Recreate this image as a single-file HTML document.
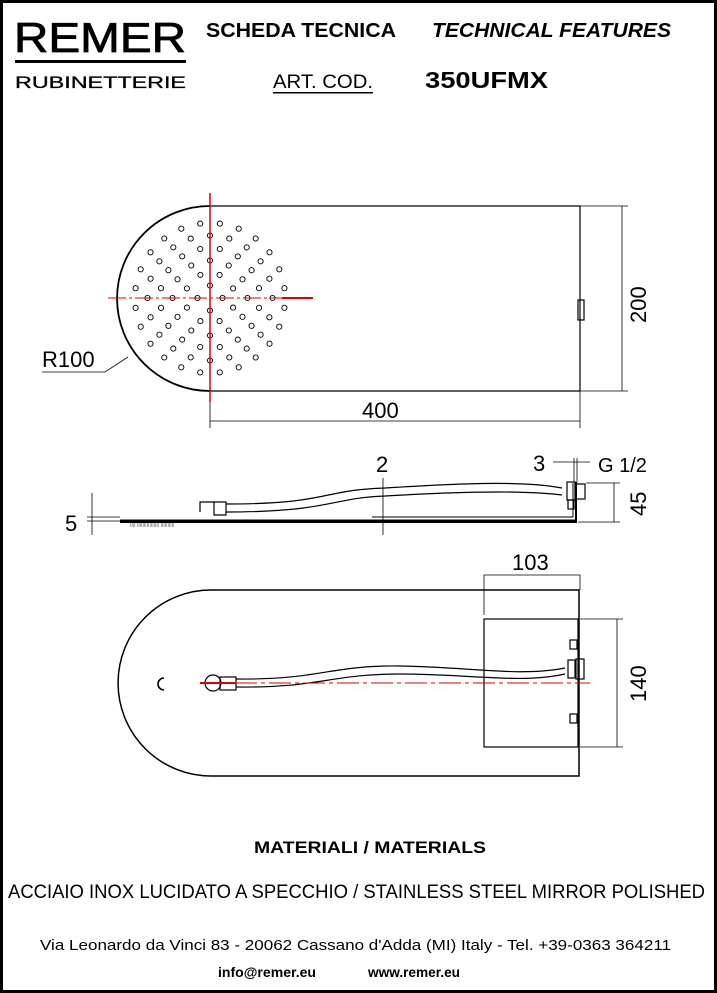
<!DOCTYPE html>
<html><head><meta charset="utf-8"><style>
html,body{margin:0;padding:0;background:#fff}
svg{display:block}
text{font-family:"Liberation Sans",sans-serif}
</style></head><body>
<svg width="717" height="993" viewBox="0 0 717 993" xmlns="http://www.w3.org/2000/svg">
<rect x="1.5" y="1.5" width="714" height="990" fill="#fff" stroke="#000" stroke-width="3"/>
<!-- header -->
<text x="14" y="52" font-size="42" textLength="172" lengthAdjust="spacingAndGlyphs" stroke="#000" stroke-width="0.8">REMER</text>
<rect x="15" y="60" width="171" height="3" fill="#000"/>
<text x="15" y="88" font-size="17" textLength="171" lengthAdjust="spacingAndGlyphs" stroke="#000" stroke-width="0.3">RUBINETTERIE</text>
<text x="206" y="37" font-size="20" font-weight="bold" textLength="190" lengthAdjust="spacingAndGlyphs">SCHEDA TECNICA</text>
<text x="432" y="37" font-size="20" font-weight="bold" font-style="italic" textLength="239" lengthAdjust="spacingAndGlyphs">TECHNICAL FEATURES</text>
<text x="273" y="88" font-size="19" textLength="100" lengthAdjust="spacingAndGlyphs">ART. COD.</text>
<rect x="273" y="92" width="100" height="1.5" fill="#000"/>
<text x="425" y="88" font-size="23" font-weight="bold" textLength="123" lengthAdjust="spacingAndGlyphs">350UFMX</text>

<g fill="none" stroke="#000" stroke-width="1.2">
<!-- top view -->
<path d="M210 206 A93 92.5 0 0 0 210 391" stroke-width="1.8"/>
<path d="M210 206 H580 V391 H210"/>
<rect x="578" y="300" width="6" height="20"/>
<line x1="580" y1="206" x2="628" y2="206" stroke-width="0.8"/>
<line x1="580" y1="391" x2="628" y2="391" stroke-width="0.8"/>
<line x1="622" y1="206" x2="622" y2="391" stroke-width="0.8"/>
<line x1="210" y1="391" x2="210" y2="428" stroke-width="0.8"/>
<line x1="580" y1="391" x2="580" y2="428" stroke-width="0.8"/>
<line x1="210" y1="421" x2="580" y2="421" stroke-width="0.8"/>
<polyline points="42,372 105,372 128,357" stroke-width="0.8"/>
<g id="holes" stroke-width="0.9"></g>

<!-- side view -->
<rect x="120" y="519.5" width="456" height="3.5" fill="#000" stroke="none"/>
<path d="M372 517 H573 V483" stroke-width="1"/>
<path d="M576 523 V482" stroke-width="2"/>
<rect x="567" y="482" width="8" height="18"/>
<rect x="576" y="484" width="9" height="15"/>
<rect x="568" y="500" width="6" height="9"/>
<path d="M200 512 V502 H214 V515 H226 V502 H214" />
<path d="M226 504 C330 504 320 490 385 488 C450 484 520 480 562 488"/>
<path d="M226 512 C330 512 330 498 385 496 C450 492 520 490 562 495"/>
<line x1="586" y1="483" x2="620" y2="483" stroke-width="0.8"/>
<line x1="578" y1="522" x2="620" y2="522" stroke-width="0.8"/>
<line x1="614" y1="483" x2="614" y2="522" stroke-width="0.8"/>
<line x1="383" y1="478" x2="383" y2="535" stroke-width="0.8"/>
<line x1="553" y1="462" x2="590" y2="462" stroke-width="0.8"/>
<line x1="574" y1="458" x2="574" y2="482" stroke-width="0.8"/>
<line x1="577" y1="458" x2="577" y2="482" stroke-width="0.8"/>
<line x1="92" y1="493" x2="92" y2="535" stroke-width="0.8"/>
<line x1="87" y1="517" x2="120" y2="517" stroke-width="0.8"/>
<line x1="87" y1="521" x2="120" y2="521" stroke-width="0.8"/>
<text x="130" y="527" font-size="5" fill="#555" stroke="none">IIII IIIIIIIIIIIIIIII IIIIIIIIII</text>

<!-- bottom view -->
<path d="M211 590 A93 93 0 0 0 211 776" stroke-width="1.5"/>
<path d="M211 590 H579 V776 H211" stroke-width="1.5"/>
<rect x="484" y="619" width="94" height="128"/>
<rect x="570" y="640" width="7" height="9"/>
<rect x="570" y="714" width="7" height="9"/>
<rect x="568" y="660" width="7" height="18"/>
<rect x="576" y="659" width="8" height="20"/>
<circle cx="213" cy="683" r="8"/>
<rect x="220" y="677" width="16" height="13"/>
<path d="M236 679 C320 680 330 665 400 666 C470 667 520 677 565 668"/>
<path d="M236 687 C320 688 330 674 400 674 C470 674 520 684 565 674"/>
<path d="M164 678 A5 5 0 0 0 164 690" stroke-width="1.6"/>
<line x1="484" y1="575" x2="484" y2="615" stroke-width="0.8"/>
<line x1="580" y1="575" x2="580" y2="590" stroke-width="0.8"/>
<line x1="484" y1="575" x2="580" y2="575" stroke-width="0.8"/>
<line x1="580" y1="619" x2="623" y2="619" stroke-width="0.8"/>
<line x1="580" y1="747" x2="623" y2="747" stroke-width="0.8"/>
<line x1="617" y1="619" x2="617" y2="747" stroke-width="0.8"/>
</g>
<!-- red centre lines -->
<g stroke="#d00" fill="none">
<line x1="210" y1="193" x2="210" y2="402" stroke-width="1.5"/>
<line x1="108" y1="298" x2="282" y2="298" stroke-width="1" stroke-dasharray="18 3 3 3"/>
<line x1="282" y1="298" x2="313" y2="298" stroke-width="2"/>
<line x1="200" y1="683" x2="235" y2="683" stroke-width="2"/>
<line x1="235" y1="683" x2="590" y2="683" stroke-width="1" stroke-dasharray="22 4 4 4"/>
</g>
<g font-size="22" fill="#000">
<text x="42" y="367">R100</text>
<text x="362" y="418">400</text>
<text x="0" y="0" transform="translate(646,323) rotate(-90)">200</text>
<text x="376" y="472">2</text>
<text x="533" y="471">3</text>
<text x="598" y="472" font-size="20">G 1/2</text>
<text x="0" y="0" transform="translate(646,516) rotate(-90)">45</text>
<text x="65" y="531">5</text>
<text x="512" y="570">103</text>
<text x="0" y="0" transform="translate(646,702) rotate(-90)">140</text>
</g>
<text x="254" y="853" font-size="17" font-weight="bold" textLength="232" lengthAdjust="spacingAndGlyphs">MATERIALI / MATERIALS</text>
<text x="8" y="898" font-size="19" textLength="697" lengthAdjust="spacingAndGlyphs">ACCIAIO INOX LUCIDATO A SPECCHIO / STAINLESS STEEL MIRROR POLISHED</text>
<text x="40" y="950" font-size="14.5" textLength="631" lengthAdjust="spacingAndGlyphs">Via Leonardo da Vinci 83 - 20062 Cassano d'Adda (MI) Italy - Tel. +39-0363 364211</text>
<text x="218" y="977" font-size="14" font-weight="bold" textLength="98" lengthAdjust="spacingAndGlyphs">info@remer.eu</text>
<text x="368" y="977" font-size="14" font-weight="bold" textLength="92" lengthAdjust="spacingAndGlyphs">www.remer.eu</text>
</svg>
<script>
var g=document.getElementById('holes'),s='';
var ns=[4,8,12,16,20,24];
for(var k=1;k<=6;k++){var n=ns[k-1];var r=12.5*k;for(var i=0;i<n;i++){var a=2*Math.PI*i/n+(k%2?0:Math.PI/n)+Math.PI/2;
s+='<circle cx="'+(210+r*Math.cos(a)).toFixed(1)+'" cy="'+(298+r*Math.sin(a)).toFixed(1)+'" r="2.6"/>';}}
g.innerHTML=s;
</script>
</body></html>
